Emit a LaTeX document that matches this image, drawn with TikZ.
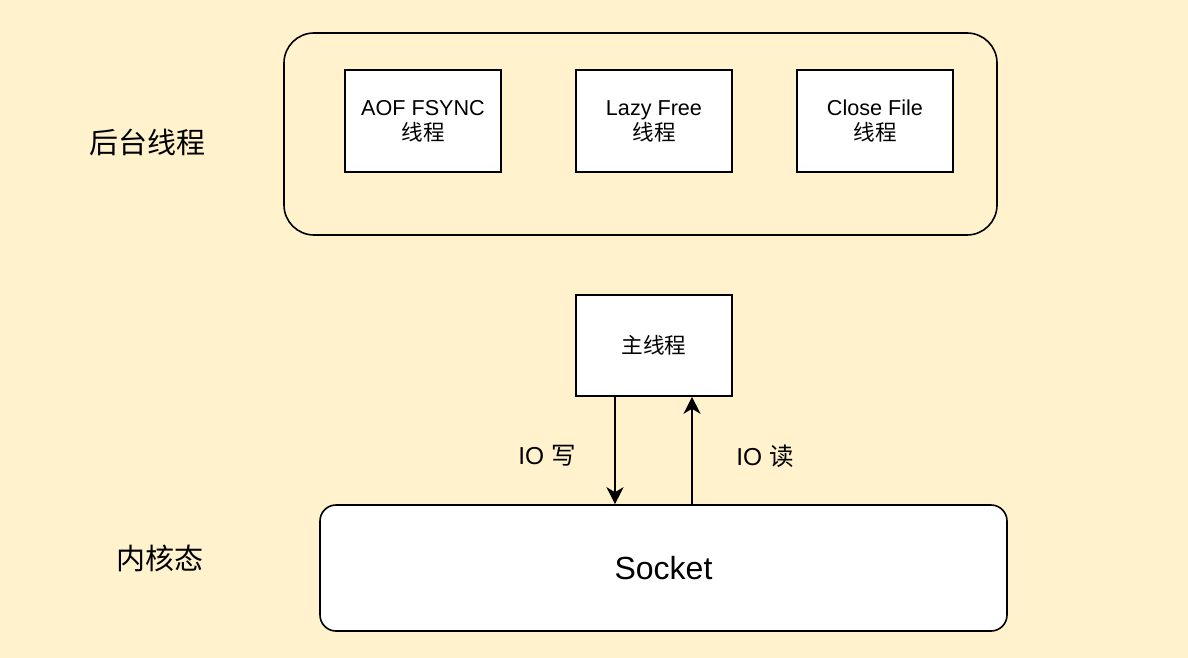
\documentclass[tikz,border=0pt]{standalone}
\usepackage{fontspec}
\setmainfont{Liberation Sans}
\newfontfamily\cjk{Noto Sans CJK SC}
\usetikzlibrary{arrows.meta}
\definecolor{bgyellow}{HTML}{FFF2CC}
\tikzset{
  x=1pt, y=-1pt,
  thread/.style={draw=black, line width=1.6pt, fill=white, align=center, font=\fontsize{21.6}{25}\selectfont, inner sep=0pt},
  bigrr/.style={draw=black, line width=1.6pt},
  lbl/.style={font=\fontsize{29}{32}\selectfont\cjk, inner sep=0pt},
  iolbl/.style={font=\fontsize{24.5}{28}\selectfont, inner sep=0pt},
  conn/.style={line width=1.6pt, -{Stealth[length=17pt,width=17pt,inset=5pt]}}
}
\begin{document}
\begin{tikzpicture}
\fill[bgyellow] (0,0) rectangle (1188,658);
\useasboundingbox (0,0) rectangle (1188,658);
% background thread container
\draw[bigrr, rounded corners=30pt] (284,33) rectangle (997,235);
\node[lbl] (bglabel) at (147,142) {后台线程};
\node[thread, minimum width=156pt, minimum height=102pt] (aof) at (423,121) {AOF FSYNC\\{\cjk 线程}};
\node[thread, minimum width=156pt, minimum height=102pt] (lazy) at (654,121) {Lazy Free\\{\cjk 线程}};
\node[thread, minimum width=156pt, minimum height=102pt] (close) at (875,121) {Close File\\{\cjk 线程}};
% main thread
\node[thread, minimum width=156pt, minimum height=101pt] (main) at (654,345.5) {\cjk 主线程};
% socket
\node[draw=black, line width=1.6pt, fill=white, rounded corners=16pt, minimum width=687pt, minimum height=126pt, inner sep=0pt, font=\fontsize{32}{36}\selectfont] (sock) at (663.5,568) {Socket};
\node[lbl] (kernel) at (160,558) {内核态};
% arrows
\coordinate (wtop) at (615,396);
\coordinate (wbot) at (615,505);
\coordinate (rtop) at (692,396);
\coordinate (rbot) at (692,505);
\draw[conn] (main.south -| wtop) -- (sock.north -| wbot);
\draw[conn] (sock.north -| rbot) -- (main.south -| rtop);
\node[iolbl] (iow) at (547,456) {IO {\cjk 写}};
\node[iolbl] (ior) at (765,456) {IO {\cjk 读}};
\end{tikzpicture}
\end{document}
